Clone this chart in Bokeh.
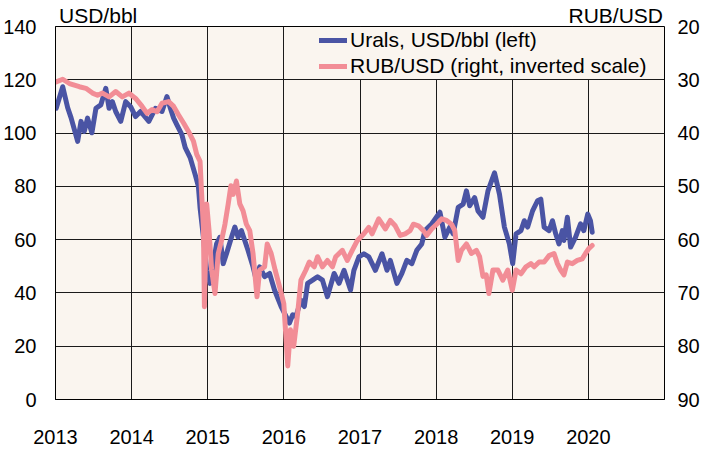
from bokeh.plotting import figure
from bokeh.models import Range1d, LinearAxis, FixedTicker, Legend, LegendItem
from bokeh.embed import file_html
from bokeh.resources import INLINE

# ---- data ----
urals_t = [2013.009, 2013.095, 2013.160, 2013.205, 2013.291, 2013.335, 2013.378, 2013.421, 2013.478,
           2013.531, 2013.596, 2013.661, 2013.704, 2013.747, 2013.791, 2013.857, 2013.922, 2013.987,
           2014.052, 2014.117, 2014.226, 2014.313, 2014.399, 2014.464, 2014.509, 2014.552, 2014.595,
           2014.660, 2014.704, 2014.769, 2014.834, 2014.877, 2014.899, 2014.943, 2014.986, 2015.030,
           2015.073, 2015.116, 2015.160, 2015.203, 2015.246, 2015.312, 2015.356, 2015.399, 2015.442,
           2015.486, 2015.529, 2015.595, 2015.638, 2015.682, 2015.747, 2015.812, 2015.877, 2015.964,
           2016.029, 2016.073, 2016.116, 2016.159, 2016.224, 2016.269, 2016.312, 2016.377, 2016.442,
           2016.507, 2016.572, 2016.660, 2016.725, 2016.790, 2016.876, 2016.920, 2016.986, 2017.051,
           2017.116, 2017.202, 2017.289, 2017.355, 2017.398, 2017.485, 2017.550, 2017.615, 2017.681,
           2017.746, 2017.811, 2017.854, 2017.941, 2018.050, 2018.115, 2018.180, 2018.224, 2018.290,
           2018.355, 2018.398, 2018.441, 2018.506, 2018.550, 2018.615, 2018.681, 2018.767, 2018.832,
           2018.897, 2018.962, 2019.006, 2019.050, 2019.115, 2019.158, 2019.202, 2019.267, 2019.332,
           2019.375, 2019.419, 2019.484, 2019.528, 2019.571, 2019.614, 2019.658, 2019.679, 2019.724,
           2019.767, 2019.832, 2019.897, 2019.940, 2019.992, 2020.027, 2020.050]
urals_usd = [109.3, 117.4, 109.5, 105.7, 96.9, 104.4, 100.6, 105.6, 100.1,
             109.3, 110.6, 116.8, 109.3, 111.8, 108.1, 104.4, 111.8, 109.9,
             106.2, 108.1, 104.4, 109.3, 108.1, 113.7, 109.3, 105.6, 103.1,
             99.4, 94.5, 90.8, 84.5, 80.0, 72.0, 60.9, 48.5, 43.6,
             51.0, 58.4, 60.9, 51.0, 54.7, 60.9, 64.7, 60.9, 63.4,
             59.7, 56.0, 49.8, 44.8, 49.8, 46.1, 47.3, 41.1, 34.9,
             31.2, 28.7, 31.8, 31.2, 37.3, 34.9, 43.6, 44.8, 46.1,
             44.8, 38.6, 47.3, 43.6, 48.5, 41.1, 48.5, 53.5, 54.7,
             53.5, 48.5, 54.7, 48.5, 52.2, 43.6, 47.3, 52.2, 51.0,
             56.0, 58.4, 63.4, 65.9, 70.3, 60.9, 64.7, 62.2, 72.1,
             73.3, 78.3, 72.7, 75.8, 70.8, 68.4, 78.3, 85.1, 77.1,
             64.7, 58.4, 51.0, 62.2, 63.4, 67.1, 64.7, 70.8, 74.6,
             75.2, 64.7, 63.4, 67.1, 62.2, 58.4, 63.4, 59.7, 68.4,
             57.2, 60.9, 65.9, 63.4, 69.6, 67.1, 62.8]

rub_t = [2013.009, 2013.095, 2013.183, 2013.313, 2013.400, 2013.486, 2013.552, 2013.617, 2013.704,
         2013.791, 2013.877, 2013.965, 2014.052, 2014.138, 2014.203, 2014.269, 2014.334, 2014.399,
         2014.486, 2014.552, 2014.617, 2014.682, 2014.747, 2014.812, 2014.855, 2014.899, 2014.920,
         2014.943, 2014.956, 2014.986, 2015.017, 2015.051, 2015.095, 2015.138, 2015.181, 2015.226,
         2015.269, 2015.304, 2015.334, 2015.377, 2015.421, 2015.464, 2015.507, 2015.552, 2015.595,
         2015.647, 2015.682, 2015.747, 2015.781, 2015.833, 2015.885, 2015.943, 2015.999, 2016.051,
         2016.086, 2016.129, 2016.181, 2016.224, 2016.289, 2016.334, 2016.399, 2016.442, 2016.507,
         2016.572, 2016.638, 2016.681, 2016.768, 2016.833, 2016.898, 2016.964, 2017.051, 2017.116,
         2017.159, 2017.246, 2017.333, 2017.398, 2017.463, 2017.528, 2017.593, 2017.658, 2017.702,
         2017.768, 2017.833, 2017.876, 2017.941, 2018.007, 2018.072, 2018.137, 2018.202, 2018.245,
         2018.290, 2018.333, 2018.398, 2018.464, 2018.529, 2018.571, 2018.615, 2018.658, 2018.693,
         2018.746, 2018.811, 2018.876, 2018.941, 2019.001, 2019.050, 2019.115, 2019.180, 2019.245,
         2019.288, 2019.353, 2019.419, 2019.484, 2019.549, 2019.593, 2019.636, 2019.679, 2019.724,
         2019.789, 2019.854, 2019.919, 2019.962, 2020.005, 2020.050]
rub_per_usd = [30.4, 29.9, 30.7, 31.3, 31.6, 32.5, 32.9, 32.5, 33.2,
               32.2, 33.2, 32.5, 33.5, 35.0, 36.3, 35.6, 36.0, 34.4,
               34.1, 35.0, 36.6, 38.1, 39.7, 41.5, 44.0, 45.3, 51.5,
               57.7, 72.6, 53.3, 58.3, 65.7, 70.1, 62.6, 60.2, 57.1,
               53.3, 49.9, 51.5, 49.0, 53.3, 54.6, 57.1, 58.3, 62.6,
               70.7, 65.7, 65.1, 60.8, 62.6, 65.7, 68.8, 72.0, 83.7,
               76.9, 80.0, 73.8, 67.6, 65.7, 64.2, 65.1, 63.2, 65.1,
               63.9, 65.1, 63.2, 62.0, 63.9, 62.0, 60.2, 58.9, 57.7,
               58.9, 56.1, 58.0, 56.4, 57.4, 59.2, 58.9, 58.3, 57.1,
               57.4, 58.3, 59.2, 58.0, 57.1, 56.1, 56.4, 57.1, 58.3,
               63.9, 62.0, 60.8, 62.6, 62.0, 63.2, 66.9, 66.6, 70.1,
               65.7, 65.7, 67.6, 65.7, 69.5, 65.7, 66.4, 65.1, 64.5,
               65.1, 64.2, 64.2, 63.0, 62.6, 64.5, 65.7, 66.6, 64.2,
               64.5, 63.9, 63.6, 62.6, 61.7, 61.1]

year_ticks = [2013, 2014, 2015, 2016, 2017, 2018, 2019, 2020]
grid_years = [2013, 2014, 2015, 2016, 2017, 2018, 2019, 2020, 2021]
left_ticks = [0, 20, 40, 60, 80, 100, 120, 140]
right_ticks = [20, 30, 40, 50, 60, 70, 80, 90]
unit_titles = {2013.56: "USD/bbl", 2020.36: "RUB/USD"}

FONT = "Liberation Sans"
BLUE = "#4A54A4"
PINK = "#F28D96"

p = figure(width=702, height=452, output_backend="svg", toolbar_location=None,
           x_range=Range1d(2013, 2021), y_range=Range1d(0, 140),
           min_border_left=53, min_border_right=35, min_border_top=23, min_border_bottom=53)
p.background_fill_color = "#FAF5EF"
p.border_fill_color = "white"
p.outline_line_color = "black"
p.outline_line_width = 1

xa = p.below[0]
ya = p.left[0]

p.extra_y_ranges = {"rub": Range1d(90, 20)}
raxis = LinearAxis(y_range_name="rub", ticker=FixedTicker(ticks=right_ticks))
p.add_layout(raxis, "right")

# unit titles drawn as labels of an invisible top axis
taxis = LinearAxis(ticker=FixedTicker(ticks=list(unit_titles.keys())),
                   major_label_overrides=unit_titles)
p.add_layout(taxis, "above")
taxis.axis_line_color = None
taxis.major_label_standoff = 0
taxis.major_label_text_font_size = "21px"

for ax in [ya, raxis, xa, taxis]:
    ax.major_label_text_font = FONT
    ax.major_label_text_color = "black"
    ax.major_tick_line_color = None
    ax.minor_tick_line_color = None
    ax.major_tick_out = 0
    ax.major_tick_in = 0
    ax.minor_tick_out = 0
    ax.minor_tick_in = 0

ya.ticker = FixedTicker(ticks=left_ticks)
ya.major_label_text_font_size = "20px"
ya.major_label_standoff = 19
ya.axis_line_color = "black"
raxis.major_label_text_font_size = "20px"
raxis.major_label_standoff = 13
raxis.axis_line_color = None

xa.ticker = FixedTicker(ticks=year_ticks)
xa.major_label_text_font_size = "20px"
xa.major_label_standoff = 30
xa.axis_line_color = "black"

p.xgrid.ticker = FixedTicker(ticks=grid_years)
p.ygrid.ticker = FixedTicker(ticks=left_ticks)
for g in [p.xgrid[0], p.ygrid[0]]:
    g.grid_line_color = "#1a1a1a"
    g.grid_line_width = 1

r_urals = p.line(urals_t, urals_usd, line_color=BLUE, line_width=5,
                 line_join="round", line_cap="round")
r_rub = p.line(rub_t, rub_per_usd, y_range_name="rub", line_color=PINK, line_width=5,
               line_join="round", line_cap="round")

legend = Legend(items=[LegendItem(label="Urals, USD/bbl (left)", renderers=[r_urals]),
                       LegendItem(label="RUB/USD (right, inverted scale)", renderers=[r_rub])],
                location=(264, 320), orientation="vertical",
                background_fill_color="#FAF5EF", background_fill_alpha=1.0,
                border_line_color=None, padding=2, spacing=0, margin=0,
                glyph_width=28, glyph_height=26, label_height=26, label_standoff=3,
                label_text_font=FONT, label_text_font_size="21px", label_text_color="black")
p.add_layout(legend, "center")

open("out.html", "w").write(file_html(p, INLINE))
